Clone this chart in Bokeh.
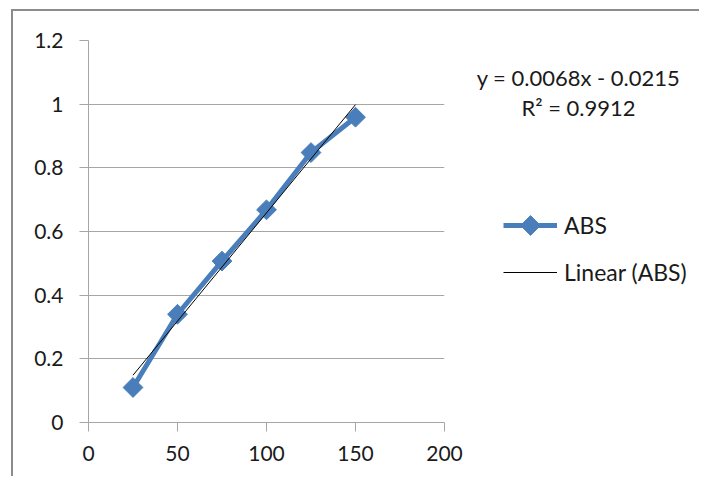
import numpy as np
from bokeh.plotting import figure
from bokeh.layouts import row
from bokeh.models import Range1d, FixedTicker, Legend, LegendItem, Label
from bokeh.embed import file_html
from bokeh.resources import INLINE

# ---- data ----
conc = [25, 50, 75, 100, 125, 150]
abs_vals = [0.11, 0.34, 0.507, 0.668, 0.848, 0.959]
slope = 0.0068
intercept = -0.0215
r2 = 0.9912
x_ticks = [0, 50, 100, 150, 200]
y_ticks = [0, 0.2, 0.4, 0.6, 0.8, 1.0, 1.2]
y_tick_labels = ["0", "0.2", "0.4", "0.6", "0.8", "1", "1.2"]
series_name = "ABS"
trend_name = "Linear (ABS)"

FONT = "Lato"
TXT = "#1a1a1a"
GRID = "#a6a6a6"
BLUE = "#4a7ebb"
H = 465
BT, BB = 29, 54
FRAME_H = H - BT - BB
MARKER_SIZE = 14

p = figure(width=456, height=H, output_backend="svg", toolbar_location=None,
           x_range=Range1d(0, 200), y_range=Range1d(0, 1.2),
           min_border_left=75, min_border_right=25, min_border_top=BT,
           min_border_bottom=BB)
p.outline_line_color = None
p.xgrid.visible = False
p.ygrid.ticker = FixedTicker(ticks=y_ticks)
p.ygrid.grid_line_color = GRID
p.ygrid.grid_line_width = 1

p.xaxis.ticker = FixedTicker(ticks=x_ticks)
p.yaxis.ticker = FixedTicker(ticks=y_ticks)
p.yaxis.major_label_overrides = {t: l for t, l in zip(y_ticks, y_tick_labels)}
for ax in (p.xaxis[0], p.yaxis[0]):
    ax.axis_line_color = GRID
    ax.major_tick_line_color = GRID
    ax.major_tick_in = 0
    ax.major_tick_out = 9
    ax.minor_tick_line_color = None
    ax.major_label_text_font = FONT
    ax.major_label_text_font_size = "21px"
    ax.major_label_text_color = TXT
p.xaxis.major_label_standoff = 14
p.yaxis.major_label_standoff = 16

line_r = p.line(conc, abs_vals, line_color=BLUE, line_width=5)
pts_r = p.scatter(conc, abs_vals, marker="square", size=MARKER_SIZE, angle=np.pi / 4,
                  fill_color=BLUE, line_color=BLUE)
tx = [conc[0], conc[-1]]
ty = [slope * v + intercept for v in tx]
trend_r = p.line(tx, ty, line_color="black", line_width=1)

# ---- side panel for legend and equation (frame aligned with main frame) ----
p2 = figure(width=230, height=H, output_backend="svg", toolbar_location=None,
            x_range=Range1d(0, 230), y_range=Range1d(0, FRAME_H),
            x_axis_location=None, y_axis_location=None,
            min_border_left=0, min_border_right=0,
            min_border_top=BT, min_border_bottom=BB)
p2.outline_line_color = None
p2.grid.visible = False

LEG_X, LEG_Y = 34, 136
GW, GH, SP = 54, 28, 19

nan = [np.nan]
lg_line = p2.line(x=nan, y=nan, line_color=BLUE, line_width=5)
lg_trend = p2.line(x=nan, y=nan, line_color="black", line_width=1)

legend = Legend(items=[LegendItem(label=series_name, renderers=[lg_line]),
                       LegendItem(label=trend_name, renderers=[lg_trend])],
                location=(LEG_X, LEG_Y), orientation="vertical",
                glyph_width=GW, glyph_height=GH, label_height=GH,
                label_standoff=7, spacing=SP, padding=0, margin=0,
                border_line_color=None, background_fill_alpha=0,
                label_text_font=FONT, label_text_font_size="23px",
                label_text_color=TXT)
p2.add_layout(legend, "center")

# diamond marker of the legend's first entry (rotated square, like the data markers)
p2.scatter(x=[LEG_X + GW / 2], y=[LEG_Y + GH + SP + GH / 2], marker="square",
           size=MARKER_SIZE, angle=np.pi / 4, fill_color=BLUE, line_color=BLUE)

eq1 = Label(x=109, y=345, text=f"y = {slope:.4f}x - {abs(intercept):.4f}",
            text_align="center", text_baseline="alphabetic",
            text_font=FONT, text_font_size="22px", text_color=TXT)
eq2 = Label(x=109, y=315, text=f"R² = {r2:.4f}",
            text_align="center", text_baseline="alphabetic",
            text_font=FONT, text_font_size="22px", text_color=TXT)
p2.add_layout(eq1)
p2.add_layout(eq2)

lay = row(p, p2)
lay.margin = (9, 0, 0, 11)
lay.styles = {"border-top": "2px solid #8c8c8c", "border-left": "2px solid #8c8c8c"}

open("out.html", "w").write(file_html(lay, INLINE))
